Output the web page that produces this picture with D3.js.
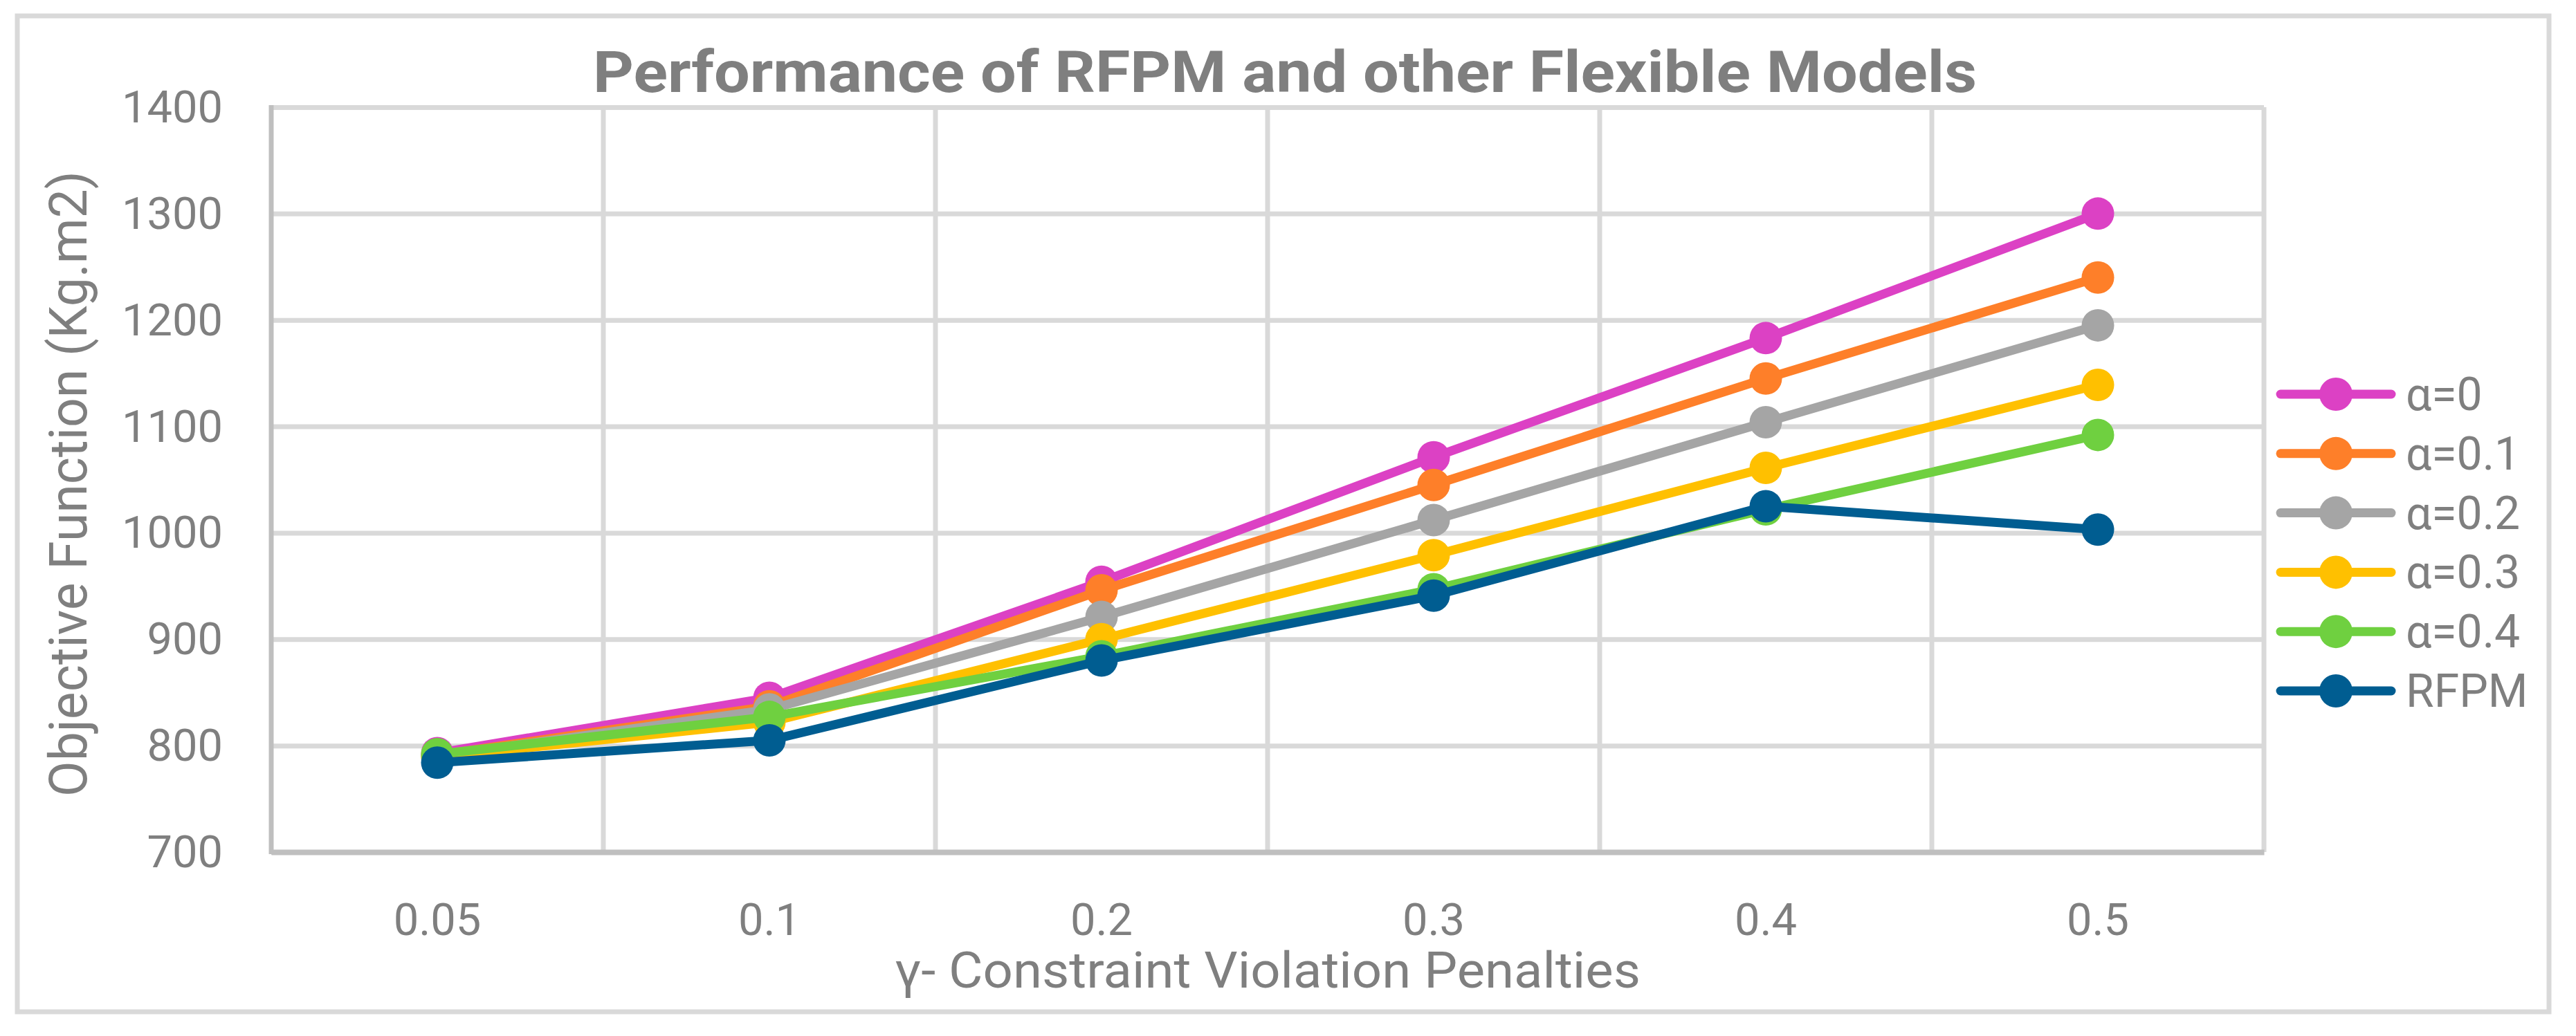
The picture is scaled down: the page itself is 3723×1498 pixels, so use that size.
<!DOCTYPE html>
<html>
<head>
<meta charset="utf-8">
<script src="https://cdn.jsdelivr.net/npm/d3@7"></script>
<style>
  body { margin: 0; background: #fff; }
  text { font-family: Roboto, "Liberation Sans", sans-serif; fill: #7f7f7f; }
</style>
</head>
<body>
<div id="chart"></div>
<script>
// Data
var categories = ["0.05", "0.1", "0.2", "0.3", "0.4", "0.5"];
var seriesNames = ["α=0", "α=0.1", "α=0.2", "α=0.3", "α=0.4", "RFPM"];
var alpha0  = [793, 845, 954, 1071, 1183, 1300];
var alpha01 = [791, 837, 946, 1045, 1145, 1240];
var alpha02 = [790, 834, 921, 1012, 1104, 1195];
var alpha03 = [789, 822, 900, 979, 1061, 1139];
var alpha04 = [792, 827, 884, 947, 1022, 1092];
var rfpm    = [784, 805, 880, 941, 1025, 1003];
var yTicks = [700, 800, 900, 1000, 1100, 1200, 1300, 1400];

var colors = ["#dc41c4", "#fe7f29", "#a5a5a5", "#ffc000", "#6fd040", "#005d91"];
var allValues = [alpha0, alpha01, alpha02, alpha03, alpha04, rfpm];

var W = 3723, H = 1498;
var plot = { left: 392, right: 3272, top: 155, bottom: 1232 };

var svg = d3.select("#chart").append("svg")
    .attr("width", W)
    .attr("height", H);

// chart border
svg.append("rect")
    .attr("x", 25).attr("y", 23)
    .attr("width", 3659).attr("height", 1440)
    .attr("fill", "#fff")
    .attr("stroke", "#d9d9d9")
    .attr("stroke-width", 7);

var x = d3.scaleBand()
    .domain(categories)
    .range([plot.left, plot.right])
    .paddingInner(0).paddingOuter(0);

var y = d3.scaleLinear()
    .domain([700, 1400])
    .range([plot.bottom, plot.top]);

// Y axis with horizontal gridlines
var yAxis = svg.append("g")
    .attr("transform", "translate(" + plot.left + ",0)")
    .call(d3.axisLeft(y)
        .tickValues(yTicks)
        .tickSize(-(plot.right - plot.left))
        .tickPadding(70)
        .tickFormat(d3.format("d")));
yAxis.select(".domain").remove();
yAxis.selectAll("line")
    .attr("stroke", "#d9d9d9")
    .attr("stroke-width", 7);
yAxis.selectAll("text")
    .attr("font-size", 65)
    .attr("dy", "0.33em")
    .style("font-family", "Roboto, sans-serif")
    .attr("fill", "#7f7f7f");

// vertical gridlines between categories
var vLines = categories.map(function (c) { return x(c); }).concat([x.range()[1]]);
svg.append("g").selectAll("line")
    .data(vLines.slice(1))
    .enter()
    .append("line")
    .attr("x1", function (d) { return d; })
    .attr("x2", function (d) { return d; })
    .attr("y1", plot.top)
    .attr("y2", plot.bottom)
    .attr("stroke", "#d9d9d9")
    .attr("stroke-width", 7);

// left axis line
svg.append("line")
    .attr("x1", plot.left).attr("x2", plot.left)
    .attr("y1", plot.top - 3).attr("y2", plot.bottom + 3)
    .attr("stroke", "#bfbfbf")
    .attr("stroke-width", 7);

// X axis
var xAxis = svg.append("g")
    .attr("transform", "translate(0," + plot.bottom + ")")
    .call(d3.axisBottom(x).tickSize(0).tickPadding(74));
xAxis.select(".domain")
    .attr("stroke", "#bfbfbf")
    .attr("stroke-width", 8);
xAxis.selectAll("text")
    .attr("font-size", 65)
    .style("font-family", "Roboto, sans-serif")
    .attr("fill", "#7f7f7f");

// lines and markers
var line = d3.line()
    .x(function (d, i) { return x(categories[i]) + x.bandwidth() / 2; })
    .y(function (d) { return y(d); });

allValues.forEach(function (vals, s) {
    var g = svg.append("g");
    g.append("path")
        .datum(vals)
        .attr("d", line)
        .attr("fill", "none")
        .attr("stroke", colors[s])
        .attr("stroke-width", 13)
        .attr("stroke-linejoin", "round")
        .attr("stroke-linecap", "round");
    g.selectAll("circle")
        .data(vals)
        .enter()
        .append("circle")
        .attr("cx", function (d, i) { return x(categories[i]) + x.bandwidth() / 2; })
        .attr("cy", function (d) { return y(d); })
        .attr("r", 23.5)
        .attr("fill", colors[s]);
});

// Title
svg.append("text")
    .attr("x", 857).attr("y", 133)
    .attr("font-size", 84)
    .attr("font-weight", "bold")
    .attr("textLength", 2000)
    .attr("lengthAdjust", "spacingAndGlyphs")
    .text("Performance of RFPM and other Flexible Models");

// Axis titles
svg.append("text")
    .attr("x", 1293).attr("y", 1428)
    .attr("font-size", 72)
    .attr("textLength", 1078)
    .attr("lengthAdjust", "spacingAndGlyphs")
    .text("γ- Constraint Violation Penalties");

svg.append("text")
    .attr("transform", "translate(125,1152) rotate(-90)")
    .attr("font-size", 76)
    .attr("textLength", 905)
    .attr("lengthAdjust", "spacingAndGlyphs")
    .text("Objective Function (Kg.m2)");

// Legend
var legend = svg.append("g").selectAll("g")
    .data(seriesNames)
    .enter()
    .append("g")
    .attr("transform", function (d, i) { return "translate(0," + (570 + i * 85.8) + ")"; });

legend.append("line")
    .attr("x1", 3296).attr("x2", 3456)
    .attr("y1", 0).attr("y2", 0)
    .attr("stroke", function (d, i) { return colors[i]; })
    .attr("stroke-width", 13)
    .attr("stroke-linecap", "round");
legend.append("circle")
    .attr("cx", 3376).attr("cy", 0)
    .attr("r", 24)
    .attr("fill", function (d, i) { return colors[i]; });
legend.append("text")
    .attr("x", 3477).attr("y", 23)
    .attr("font-size", 66)
    .text(function (d) { return d; });
</script>
</body>
</html>
